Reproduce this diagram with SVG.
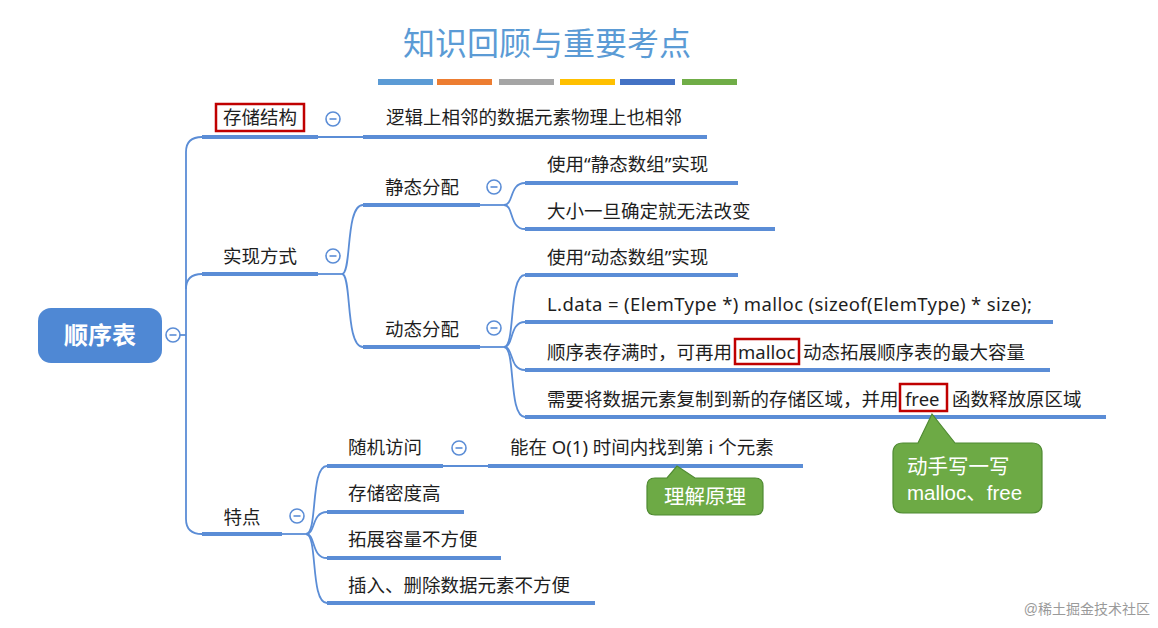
<svg xmlns="http://www.w3.org/2000/svg" width="1158" height="628" viewBox="0 0 1158 628">
  <defs>
    <style>
      .t { font-family: "Noto Sans", "Noto Sans CJK SC", sans-serif; font-size: 18.5px; fill: #1e1e1e; }
      .ul { stroke: #5B8DD6; stroke-width: 4; fill: none; stroke-linecap: butt; }
      .cn { stroke: #5B8DD6; stroke-width: 1.8; fill: none; }
      .col circle { fill: #ffffff; stroke: #5B8DD6; stroke-width: 1.6; }
      .col line { stroke: #5B8DD6; stroke-width: 1.6; }
      .red { fill: none; stroke: #C00000; stroke-width: 2.5; }
      .call { fill: #6DAA45; stroke: #4F8A32; stroke-width: 1.2; }
      .ct { font-family: "Liberation Sans", "Noto Sans CJK SC", sans-serif; font-size: 20.5px; fill: #ffffff; }
    </style>
  </defs>
  <rect width="1158" height="628" fill="#ffffff"/>

  <!-- title -->
  <g id="title">
    <text x="547" y="55" text-anchor="middle" font-family="Noto Sans CJK SC, sans-serif" font-size="32" fill="#5B9BD5">知识回顾与重要考点</text>
    <rect x="378" y="79" width="55" height="6" fill="#5B9BD5"/>
    <rect x="437" y="79" width="55" height="6" fill="#ED7D31"/>
    <rect x="499" y="79" width="55" height="6" fill="#A5A5A5"/>
    <rect x="560" y="79" width="55" height="6" fill="#FFC000"/>
    <rect x="620" y="79" width="55" height="6" fill="#4472C4"/>
    <rect x="682" y="79" width="55" height="6" fill="#70AD47"/>
  </g>

  <!-- connectors -->
  <g id="connectors">
    <path class="cn" d="M180,335 H186"/>
    <path class="cn" d="M202,137 Q186,137 186,152 V519 Q186,534 202,534"/>
    <path class="cn" d="M186,289 Q186,274 202,274"/>
    <path class="cn" d="M318,137 H363"/>
    <path class="cn" d="M318,274 H342"/>
    <path class="cn" d="M342,274 C352,274 345,205 363,205"/>
    <path class="cn" d="M342,274 C352,274 345,347 363,347"/>
    <path class="cn" d="M480,205 H504"/>
    <path class="cn" d="M504,205 C514,205 509,183 525,183"/>
    <path class="cn" d="M504,205 C514,205 509,229 525,229"/>
    <path class="cn" d="M480,347 H504"/>
    <path class="cn" d="M504,347 C516,347 508,275 525,275"/>
    <path class="cn" d="M504,347 C514,347 509,322 525,322"/>
    <path class="cn" d="M504,347 C514,347 509,370 525,370"/>
    <path class="cn" d="M504,347 C516,347 508,417 525,417"/>
    <path class="cn" d="M282,534 H306"/>
    <path class="cn" d="M306,534 C318,534 310,466 327,466"/>
    <path class="cn" d="M306,534 C316,534 311,512 327,512"/>
    <path class="cn" d="M306,534 C316,534 311,558 327,558"/>
    <path class="cn" d="M306,534 C318,534 310,603 327,603"/>
    <path class="cn" d="M443,466 H488"/>
  </g>

  <!-- root -->
  <g id="root">
    <rect x="38" y="308" width="124" height="55" rx="13" fill="#4F88D4"/>
    <text x="100" y="344" text-anchor="middle" font-family="Noto Sans CJK SC, sans-serif" font-size="24" font-weight="bold" fill="#ffffff">顺序表</text>
    <g class="col"><circle cx="173" cy="335" r="7"/><line x1="169.5" y1="335" x2="176.5" y2="335"/></g>
  </g>

  <g id="n-storage">
    <rect class="red" x="216" y="104" width="88" height="27"/>
    <text class="t" x="260" y="124" text-anchor="middle">存储结构</text>
    <line class="ul" x1="202" y1="137" x2="318" y2="137"/>
    <g class="col"><circle cx="333" cy="119" r="7"/><line x1="329.5" y1="119" x2="336.5" y2="119"/></g>
  </g>
  <g id="n-storage-1">
    <text class="t" x="386" y="124">逻辑上相邻的数据元素物理上也相邻</text>
    <line class="ul" x1="363" y1="137" x2="707" y2="137"/>
  </g>

  <g id="n-impl">
    <text class="t" x="260" y="263" text-anchor="middle">实现方式</text>
    <line class="ul" x1="202" y1="274" x2="318" y2="274"/>
    <g class="col"><circle cx="333" cy="256" r="7"/><line x1="329.5" y1="256" x2="336.5" y2="256"/></g>
  </g>

  <g id="n-static">
    <text class="t" x="385" y="194">静态分配</text>
    <line class="ul" x1="363" y1="205" x2="480" y2="205"/>
    <g class="col"><circle cx="494" cy="187" r="7"/><line x1="490.5" y1="187" x2="497.5" y2="187"/></g>
  </g>
  <g id="n-static-1">
    <text class="t" x="547" y="171">使用“静态数组”实现</text>
    <line class="ul" x1="525" y1="183" x2="738" y2="183"/>
  </g>
  <g id="n-static-2">
    <text class="t" x="547" y="218">大小一旦确定就无法改变</text>
    <line class="ul" x1="525" y1="229" x2="775" y2="229"/>
  </g>

  <g id="n-dynamic">
    <text class="t" x="385" y="336">动态分配</text>
    <line class="ul" x1="363" y1="347" x2="480" y2="347"/>
    <g class="col"><circle cx="494" cy="328" r="7"/><line x1="490.5" y1="328" x2="497.5" y2="328"/></g>
  </g>
  <g id="n-dynamic-1">
    <text class="t" x="547" y="264">使用“动态数组”实现</text>
    <line class="ul" x1="525" y1="275" x2="738" y2="275"/>
  </g>
  <g id="n-dynamic-2">
    <text class="t" x="547" y="311" textLength="485" lengthAdjust="spacing">L.data = (ElemType *) malloc (sizeof(ElemType) * size);</text>
    <line class="ul" x1="525" y1="322" x2="1053" y2="322"/>
  </g>
  <g id="n-dynamic-3">
    <text class="t" x="547" y="359">顺序表存满时，可再用</text>
    <rect class="red" x="735" y="339" width="64" height="25"/>
    <text class="t" x="738" y="359">malloc</text>
    <text class="t" x="803" y="359">动态拓展顺序表的最大容量</text>
    <line class="ul" x1="525" y1="370" x2="1050" y2="370"/>
  </g>
  <g id="n-dynamic-4">
    <text class="t" x="547" y="406">需要将数据元素复制到新的存储区域，并用</text>
    <rect class="red" x="900" y="384" width="47" height="27"/>
    <text class="t" x="905" y="406">free</text>
    <text class="t" x="952" y="406">函数释放原区域</text>
    <line class="ul" x1="525" y1="417" x2="1106" y2="417"/>
  </g>

  <g id="n-feature">
    <text class="t" x="242" y="524" text-anchor="middle">特点</text>
    <line class="ul" x1="202" y1="534" x2="282" y2="534"/>
    <g class="col"><circle cx="297" cy="516" r="7"/><line x1="293.5" y1="516" x2="300.5" y2="516"/></g>
  </g>
  <g id="n-feature-1">
    <text class="t" x="348" y="454">随机访问</text>
    <line class="ul" x1="327" y1="466" x2="443" y2="466"/>
    <g class="col"><circle cx="459" cy="448" r="7"/><line x1="455.5" y1="448" x2="462.5" y2="448"/></g>
  </g>
  <g id="n-feature-1-1">
    <text class="t" x="510" y="454">能在 O(1) 时间内找到第 i 个元素</text>
    <line class="ul" x1="488" y1="466" x2="803" y2="466"/>
  </g>
  <g id="n-feature-2">
    <text class="t" x="348" y="500">存储密度高</text>
    <line class="ul" x1="327" y1="512" x2="464" y2="512"/>
  </g>
  <g id="n-feature-3">
    <text class="t" x="348" y="546">拓展容量不方便</text>
    <line class="ul" x1="327" y1="558" x2="501" y2="558"/>
  </g>
  <g id="n-feature-4">
    <text class="t" x="348" y="592">插入、删除数据元素不方便</text>
    <line class="ul" x1="327" y1="603" x2="595" y2="603"/>
  </g>

  <g id="callout-understand">
    <path class="call" d="M655,478 H667 L677,466 L695,478 H755 Q763,478 763,486 V507 Q763,515 755,515 H655 Q647,515 647,507 V486 Q647,478 655,478 Z"/>
    <text class="ct" x="705" y="504" text-anchor="middle">理解原理</text>
  </g>
  <g id="callout-write">
    <path class="call" d="M903,443 H918 L932,414 L955,443 H1032 Q1042,443 1042,453 V503 Q1042,513 1032,513 H903 Q893,513 893,503 V453 Q893,443 903,443 Z"/>
    <text class="ct" x="907" y="474">动手写一写</text>
    <text class="ct" x="907" y="500">malloc、free</text>
  </g>

  <text x="1150" y="614" text-anchor="end" font-family="Liberation Sans, Noto Sans CJK SC, sans-serif" font-size="14" fill="#9a9a9a">@稀土掘金技术社区</text>
</svg>
